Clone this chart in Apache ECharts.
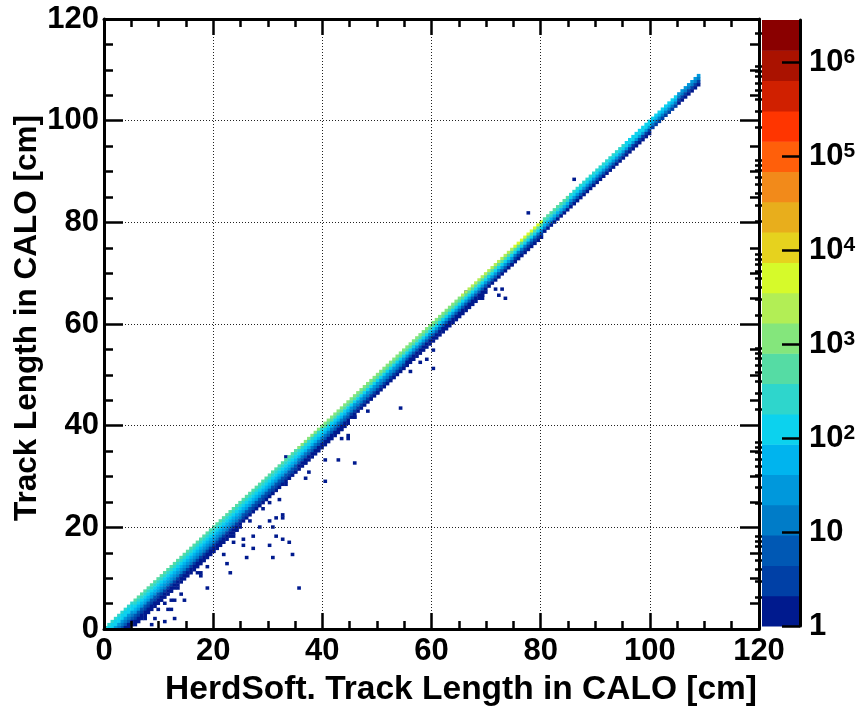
<!DOCTYPE html>
<html>
<head>
<meta charset="utf-8">
<script src="https://cdn.jsdelivr.net/npm/echarts@6/dist/echarts.min.js"></script>
<style>
html, body { margin: 0; padding: 0; background: #fff; }
#chart { width: 865px; height: 708px; }
</style>
</head>
<body>
<div id="chart"></div>
<script>
// histogram bin width [cm], same in x and y
var binWidth = 0.6;
// last filled column of the diagonal band [cm]
var bandEnd = 109.2;
// start [cm] of each 5 cm stretch along the diagonal
var segmentStart = [0, 5, 10, 15, 20, 25, 30, 35, 40, 45, 50, 55, 60, 65, 70, 75, 80, 85, 90, 95, 100, 105];
// entries per column, from the top bin of the band downwards
var bandProfile = [
    [250, 180, 90, 40, 16, 6, 2, 1],
    [450, 250, 120, 55, 22, 9, 4, 2, 1],
    [550, 300, 140, 60, 25, 10, 4, 2, 1],
    [600, 320, 150, 65, 25, 10, 4, 2, 1],
    [650, 330, 150, 60, 25, 10, 4, 2, 1],
    [700, 340, 150, 60, 22, 9, 3, 1],
    [750, 350, 150, 55, 20, 8, 3, 1],
    [800, 360, 140, 50, 18, 7, 2, 1],
    [850, 380, 140, 45, 15, 5, 2, 1],
    [950, 400, 140, 40, 12, 4, 1],
    [1100, 420, 130, 35, 10, 3, 1],
    [1300, 450, 130, 30, 8, 2, 1],
    [1600, 500, 120, 28, 7, 2, 1],
    [2100, 550, 120, 25, 6, 2, 1],
    [2800, 600, 110, 20, 5, 1],
    [3800, 650, 100, 18, 4, 1],
    [600, 220, 50, 10, 2],
    [350, 150, 35, 7, 1],
    [250, 110, 28, 5, 1],
    [180, 90, 22, 4, 1],
    [110, 50, 12, 3],
    [30, 12, 4, 1]
];
// single entries off the band [x, y] in cm
var strayHits = [
    [7.6, 2.2], [8.5, 0.6], [9.4, 2.1], [11.2, 1.7], [12.8, 2.1], [11.9, 3.6], [9.7, 3.9], [12.5, 3.6],
    [9.1, 5.2], [10.9, 5.2], [12.2, 5.9], [12.8, 5.6], [14.9, 5.4], [14.0, 6.9], [8.5, 6.9], [10.3, 7.6],
    [12.2, 7.6], [13.4, 7.9], [19.0, 8.2], [14.0, 10.2], [17.5, 10.2], [14.6, 10.9], [17.0, 11.2], [17.7, 11.2],
    [22.8, 11.0], [18.9, 12.5], [22.2, 12.9], [17.6, 13.5], [19.1, 14.5], [21.9, 14.9], [25.8, 14.2], [30.7, 14.2],
    [34.2, 14.9], [27.2, 15.8], [25.7, 16.7], [30.3, 16.7], [23.5, 16.8], [33.9, 17.2], [32.7, 17.8], [25.5, 17.8],
    [21.0, 17.8], [23.7, 18.2], [27.5, 18.4], [31.2, 18.4], [24.3, 19.5], [28.3, 19.8], [30.7, 20.1], [31.3, 21.7],
    [32.8, 21.8], [32.7, 22.3], [30.1, 21.5], [26.7, 21.5], [27.3, 23.8], [29.2, 23.5], [30.1, 24.8], [32.2, 25.4],
    [28.9, 25.8], [30.1, 26.8], [30.7, 28.8], [33.1, 28.4], [32.2, 29.8], [34.0, 29.4], [36.6, 29.4], [40.2, 28.9],
    [37.4, 31.1], [37.0, 32.4], [40.5, 33.0], [42.7, 33.4], [45.6, 32.9], [33.3, 34.1], [35.4, 8.2],
    [41.0, 38.7], [42.2, 38.4], [43.2, 39.4], [44.7, 38.0], [43.2, 37.4], [44.7, 37.7], [43.8, 41.4], [46.1, 41.4],
    [44.4, 43.0], [45.6, 41.7], [45.9, 44.0], [48.0, 43.0], [47.4, 45.3], [48.9, 45.0], [50.1, 46.7], [54.4, 43.3],
    [52.6, 49.6], [53.5, 50.6], [54.7, 51.9], [55.9, 50.6], [52.3, 50.1], [55.3, 52.6], [58.1, 52.6], [59.1, 53.1],
    [60.3, 51.5], [60.5, 55.1], [56.5, 55.3], [59.9, 57.6], [61.4, 58.9], [62.0, 58.9], [62.0, 60.9], [62.9, 60.6],
    [64.4, 62.2], [66.5, 63.9], [67.6, 65.2], [69.0, 65.2], [69.3, 65.9], [71.4, 66.9], [72.3, 65.9], [72.6, 66.9],
    [73.5, 65.2], [66.5, 66.2], [69.9, 67.9], [70.5, 69.2], [72.3, 70.5], [74.9, 71.4], [77.8, 82.0], [86.2, 88.5]
];
// 20 colour contours, lowest first
var paletteColors = [
    '#001a8e', '#0040a6', '#0058b4', '#007cc8', '#0098dc', '#00b4ee', '#0cd2ee', '#2ed6cc', '#55dca4', '#84e67c',
    '#b2ee55', '#d6fa2a', '#e6d21e', '#e8ae1c', '#f28a1a', '#ff5f0a', '#ff3500', '#d02000', '#aa1200', '#8a0000'
];
// z range of the colour axis, in log10(entries)
var zLogMax = 6.447;
// decade labels of the colour axis
var zDecades = [0, 1, 2, 3, 4, 5, 6];

var fontFamily = '"Liberation Sans", Arial, sans-serif';
var zStep = zLogMax / paletteColors.length;

// cells of the histogram
var cells = [];
strayHits.forEach(function (p) {
    var i = Math.floor(p[0] / binWidth), j = Math.floor(p[1] / binWidth);
    cells.push([i * binWidth, j * binWidth, (i + 1) * binWidth, (j + 1) * binWidth, 1]);
});
var nCols = Math.round(bandEnd / binWidth);
for (var i = 0; i < nCols; i++) {
    var x0 = i * binWidth;
    var seg = 0;
    for (var s = 0; s < segmentStart.length; s++) {
        if (x0 + 1e-6 >= segmentStart[s]) seg = s;
    }
    var prof = bandProfile[seg];
    for (var m = 0; m < prof.length; m++) {
        var j = i - m;
        if (j < 0) continue;
        cells.push([x0, j * binWidth, x0 + binWidth, (j + 1) * binWidth, prof[m]]);
    }
}

// colour bar bands and minor ticks
var zBands = paletteColors.map(function (c, k) { return [k * zStep, (k + 1) * zStep, k]; });
var zMinor = [];
zDecades.forEach(function (d) {
    for (var f = 2; f <= 9; f++) {
        var v = d + Math.log10(f);
        if (v < zLogMax) zMinor.push(v);
    }
});
var zPieces = paletteColors.map(function (c, k) {
    return { gte: Math.pow(10, k * zStep), lt: Math.pow(10, (k + 1) * zStep), color: c };
});

var chart = echarts.init(document.getElementById('chart'));

var tickLine = { color: '#000', width: 2.5 };
var frameLine = { show: true, onZero: false, lineStyle: { color: '#000', width: 3 } };
var labelStyle = { color: '#000', fontSize: 31, fontWeight: 'bold', fontFamily: fontFamily };
var gridDots = { show: true, lineStyle: { color: '#222', width: 1, type: [1, 2] } };

function frameAxis(pos, grid, label, major, minor, split) {
    var horiz = pos === 'bottom' || pos === 'top';
    return {
        type: 'value', gridIndex: grid, position: pos, min: 0, max: 120, interval: 20, z: 3,
        axisLine: frameLine,
        axisTick: { show: true, inside: true, length: major, lineStyle: tickLine },
        minorTick: { show: true, splitNumber: 4, length: minor, lineStyle: tickLine },
        axisLabel: label ? Object.assign({ margin: horiz ? 7 : 5 }, labelStyle) : { show: false },
        splitLine: split ? gridDots : { show: false }
    };
}

option = {
    animation: false,
    backgroundColor: '#fff',
    grid: [
        { left: 104, top: 19, width: 655, height: 610 },
        { left: 762, top: 20, width: 38, height: 606 }
    ],
    xAxis: [
        frameAxis('bottom', 0, true, 16, 8, true),
        frameAxis('top', 0, false, 16, 8, false),
        { type: 'value', gridIndex: 1, min: 0, max: 1, show: false }
    ],
    yAxis: [
        frameAxis('left', 0, true, 19, 9, true),
        frameAxis('right', 0, false, 19, 9, false),
        {
            type: 'value', gridIndex: 1, position: 'right', min: 0, max: zLogMax, z: 3,
            axisLine: frameLine,
            axisTick: { show: true, inside: true, length: 18, lineStyle: tickLine, customValues: zDecades },
            axisLabel: Object.assign({
                margin: 9,
                customValues: zDecades,
                formatter: function (v) {
                    if (v === 0) return '1';
                    if (v === 1) return '10';
                    return '10{sup|' + v + '}';
                },
                rich: { sup: { fontSize: 21, fontWeight: 'bold', fontFamily: fontFamily, color: '#000', verticalAlign: 'top', lineHeight: 18 } }
            }, labelStyle),
            splitLine: { show: false }
        },
        {
            type: 'value', gridIndex: 1, position: 'right', min: 0, max: zLogMax, z: 3,
            axisLine: { show: false },
            axisTick: { show: true, inside: true, length: 7, lineStyle: tickLine, customValues: zMinor },
            axisLabel: { show: false },
            splitLine: { show: false }
        }
    ],
    visualMap: {
        type: 'piecewise', show: false, dimension: 4, seriesIndex: 0,
        pieces: zPieces
    },
    graphic: [
        {
            type: 'text', x: 757, y: 690,
            style: { text: 'HerdSoft. Track Length in CALO [cm]', fill: '#000', font: 'bold 33.5px ' + fontFamily, align: 'right', verticalAlign: 'middle' }
        },
        {
            type: 'text', x: 27, y: 115, rotation: Math.PI / 2,
            style: { text: 'Track Length in CALO [cm]', fill: '#000', font: 'bold 31.5px ' + fontFamily, align: 'right', verticalAlign: 'middle' }
        }
    ],
    series: [
        {
            type: 'custom',
            xAxisIndex: 0, yAxisIndex: 0,
            encode: { x: [0, 2], y: [1, 3] },
            data: cells,
            clip: true,
            renderItem: function (params, api) {
                var p0 = api.coord([api.value(0), api.value(3)]);
                var p1 = api.coord([api.value(2), api.value(1)]);
                return {
                    type: 'rect',
                    shape: { x: p0[0], y: p0[1], width: p1[0] - p0[0] + 0.4, height: p1[1] - p0[1] + 0.4 },
                    style: { fill: api.visual('color') }
                };
            }
        },
        {
            type: 'custom',
            xAxisIndex: 2, yAxisIndex: 2,
            encode: { x: -1, y: [0, 1] },
            data: zBands,
            renderItem: function (params, api) {
                var p0 = api.coord([0, api.value(1)]);
                var p1 = api.coord([1, api.value(0)]);
                return {
                    type: 'rect',
                    shape: { x: p0[0], y: p0[1], width: p1[0] - p0[0], height: p1[1] - p0[1] + 0.5 },
                    style: { fill: paletteColors[api.value(2)] }
                };
            }
        }
    ]
};
chart.setOption(option);
</script>
</body>
</html>
